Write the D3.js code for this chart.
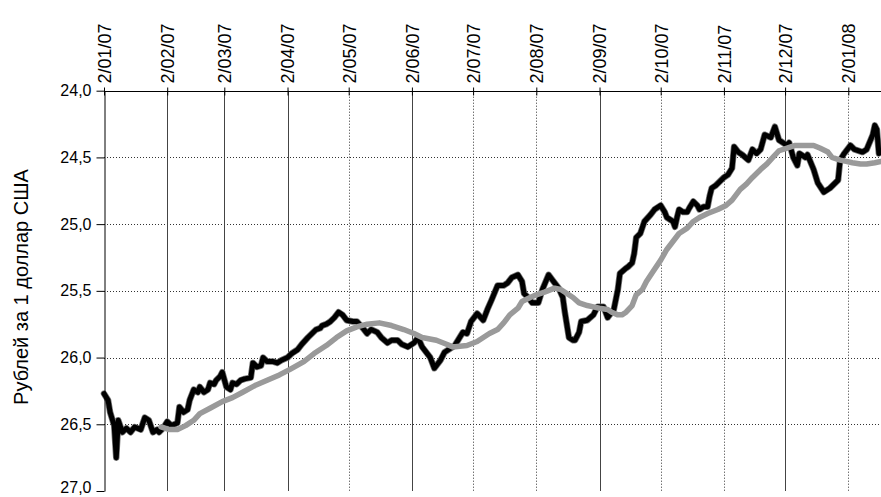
<!DOCTYPE html>
<html><head><meta charset="utf-8">
<script src="https://cdn.jsdelivr.net/npm/d3@7"></script>
<style>
body{margin:0;background:#fff}
text{font-family:"Liberation Sans",Arial,sans-serif;fill:#000}
</style>
</head><body>
<svg id="c" width="881" height="497"></svg>
<script>
// ---- data ----
const monthTicks = ["2/01/07","2/02/07","2/03/07","2/04/07","2/05/07","2/06/07","2/07/07","2/08/07","2/09/07","2/10/07","2/11/07","2/12/07","2/01/08"];
const solidGridTicks = ["2/02/07","2/03/07","2/04/07","2/06/07","2/09/07","2/12/07"];
const yTicks = [24.0,24.5,25.0,25.5,26.0,26.5,27.0];
const yTitle = "Рублей за 1 доллар США";

const rateDates = ["2007-01-02","2007-01-04","2007-01-05","2007-01-07","2007-01-08","2007-01-09","2007-01-11","2007-01-13","2007-01-15","2007-01-17","2007-01-20","2007-01-22","2007-01-24","2007-01-26","2007-01-28","2007-01-29","2007-01-31",
"2007-02-02","2007-02-04","2007-02-07","2007-02-08","2007-02-10","2007-02-12","2007-02-13","2007-02-15","2007-02-17","2007-02-18","2007-02-20","2007-02-22","2007-02-23","2007-02-25","2007-02-26","2007-02-28",
"2007-03-01","2007-03-03","2007-03-05","2007-03-06","2007-03-08","2007-03-10","2007-03-12","2007-03-15","2007-03-16","2007-03-18","2007-03-20","2007-03-21","2007-03-23","2007-03-24","2007-03-26","2007-03-28","2007-03-30",
"2007-04-02","2007-04-04","2007-04-07","2007-04-09","2007-04-12","2007-04-14","2007-04-16","2007-04-18","2007-04-19","2007-04-21","2007-04-23","2007-04-25","2007-04-27","2007-04-29",
"2007-05-01","2007-05-04","2007-05-06","2007-05-09","2007-05-11","2007-05-13","2007-05-16","2007-05-18","2007-05-21","2007-05-23","2007-05-26","2007-05-28","2007-05-31",
"2007-06-03","2007-06-05","2007-06-07","2007-06-11","2007-06-13","2007-06-16","2007-06-18","2007-06-21","2007-06-23","2007-06-27","2007-06-29",
"2007-07-01","2007-07-04","2007-07-07","2007-07-09","2007-07-11","2007-07-14","2007-07-17","2007-07-19","2007-07-21","2007-07-24","2007-07-26","2007-07-27","2007-07-29","2007-07-31",
"2007-08-03","2007-08-05","2007-08-08","2007-08-10","2007-08-13","2007-08-15","2007-08-16","2007-08-18","2007-08-20","2007-08-21","2007-08-23","2007-08-24","2007-08-27","2007-08-30",
"2007-09-01","2007-09-04","2007-09-06","2007-09-09","2007-09-11","2007-09-12","2007-09-15","2007-09-16","2007-09-18","2007-09-19","2007-09-20","2007-09-22","2007-09-24","2007-09-27","2007-09-29",
"2007-10-02","2007-10-04","2007-10-05","2007-10-08","2007-10-09","2007-10-10","2007-10-11","2007-10-13","2007-10-15","2007-10-16","2007-10-18","2007-10-20","2007-10-21","2007-10-23","2007-10-25","2007-10-26","2007-10-27","2007-10-29","2007-10-31",
"2007-11-02","2007-11-04","2007-11-06","2007-11-07","2007-11-09","2007-11-11","2007-11-14","2007-11-16","2007-11-18","2007-11-20","2007-11-22","2007-11-25","2007-11-27","2007-11-29",
"2007-12-01","2007-12-03","2007-12-04","2007-12-06","2007-12-08","2007-12-09","2007-12-12","2007-12-13","2007-12-16","2007-12-18","2007-12-21","2007-12-24","2007-12-28","2007-12-29","2007-12-31",
"2008-01-03","2008-01-05","2008-01-09","2008-01-11","2008-01-14","2008-01-15","2008-01-16","2008-01-17"];
const rateValues = [26.27,26.32,26.41,26.51,26.75,26.47,26.56,26.53,26.56,26.52,26.54,26.45,26.47,26.56,26.54,26.56,26.53,
26.48,26.51,26.49,26.37,26.41,26.39,26.32,26.24,26.26,26.22,26.26,26.24,26.19,26.20,26.17,26.14,
26.11,26.22,26.24,26.19,26.20,26.17,26.16,26.15,26.04,26.07,26.06,26.00,26.03,26.03,26.03,26.04,26.02,
26.00,25.97,25.94,25.90,25.85,25.82,25.79,25.78,25.76,25.75,25.73,25.70,25.66,25.68,
25.72,25.73,25.73,25.78,25.82,25.79,25.81,25.85,25.89,25.87,25.87,25.90,25.92,
25.89,25.85,25.92,26.00,26.08,26.02,25.96,25.93,25.91,25.81,25.82,
25.73,25.67,25.72,25.64,25.57,25.46,25.46,25.44,25.40,25.38,25.43,25.52,25.55,25.59,
25.59,25.49,25.38,25.42,25.48,25.55,25.66,25.85,25.87,25.87,25.81,25.73,25.72,25.68,
25.62,25.62,25.70,25.64,25.49,25.37,25.33,25.32,25.29,25.22,25.10,25.07,24.98,24.93,24.89,
24.86,24.91,24.95,24.98,25.02,24.95,24.89,24.91,24.91,24.88,24.83,24.86,24.89,24.87,24.87,24.79,24.73,24.71,24.68,
24.65,24.63,24.58,24.42,24.46,24.48,24.52,24.44,24.47,24.44,24.33,24.35,24.27,24.37,
24.39,24.41,24.39,24.50,24.56,24.47,24.50,24.48,24.59,24.69,24.76,24.73,24.67,24.52,24.47,
24.41,24.44,24.46,24.44,24.33,24.26,24.29,24.47];

const avgDates = ["2007-01-30","2007-02-03","2007-02-07","2007-02-11","2007-02-15","2007-02-18","2007-02-23","2007-03-01","2007-03-06","2007-03-11","2007-03-17","2007-03-23","2007-03-29",
"2007-04-03","2007-04-10","2007-04-15","2007-04-21","2007-04-26","2007-05-01","2007-05-06","2007-05-11","2007-05-17","2007-05-23","2007-05-29",
"2007-06-03","2007-06-07","2007-06-14","2007-06-19","2007-06-22","2007-06-29","2007-07-04","2007-07-07","2007-07-10","2007-07-14","2007-07-17","2007-07-20","2007-07-24","2007-07-26","2007-07-30",
"2007-08-02","2007-08-06","2007-08-11","2007-08-14","2007-08-17","2007-08-20","2007-08-23","2007-08-27","2007-08-30",
"2007-09-02","2007-09-06","2007-09-08","2007-09-11","2007-09-13","2007-09-15","2007-09-18","2007-09-20","2007-09-23","2007-09-25","2007-09-28",
"2007-10-02","2007-10-05","2007-10-08","2007-10-11","2007-10-15","2007-10-18","2007-10-21","2007-10-25","2007-10-30",
"2007-11-03","2007-11-06","2007-11-10","2007-11-13","2007-11-16","2007-11-20","2007-11-23","2007-11-26","2007-11-29",
"2007-12-03","2007-12-07","2007-12-13","2007-12-16","2007-12-19","2007-12-23","2007-12-25","2007-12-29",
"2008-01-01","2008-01-04","2008-01-08","2008-01-11","2008-01-15","2008-01-18"];
const avgValues = [26.52,26.54,26.54,26.51,26.47,26.42,26.38,26.33,26.30,26.26,26.21,26.17,26.13,
26.09,26.03,25.97,25.91,25.85,25.80,25.77,25.75,25.74,25.76,25.79,
25.82,25.85,25.87,25.90,25.92,25.91,25.88,25.85,25.82,25.79,25.74,25.68,25.63,25.58,25.55,
25.53,25.51,25.48,25.49,25.52,25.55,25.59,25.61,25.62,
25.63,25.64,25.66,25.68,25.68,25.66,25.61,25.53,25.49,25.43,25.36,
25.27,25.19,25.13,25.07,25.03,24.98,24.95,24.92,24.89,
24.86,24.82,24.74,24.70,24.65,24.59,24.55,24.50,24.45,
24.43,24.41,24.41,24.41,24.43,24.46,24.50,24.52,
24.53,24.54,24.55,24.55,24.54,24.53];

// ---- chart ----
const plot = {left: 104, top: 90.7, right: 881, bottom: 491};
const parseTick = d3.timeParse("%d/%m/%y");
const parseDate = d3.timeParse("%Y-%m-%d");

const x = d3.scaleTime()
  .domain([parseTick("2/01/07"), parseTick("2/01/08")])
  .range([plot.left, 848.3]);
const y = d3.scaleLinear().domain([24, 27]).range([plot.top, plot.bottom]);

const svg = d3.select("#c");

// horizontal grid (dotted)
svg.append("g").selectAll("line")
  .data(yTicks.filter(v => v > 24 && v < 27))
  .join("line")
  .attr("x1", plot.left).attr("x2", plot.right)
  .attr("y1", d => Math.round(y(d)) + 0.5).attr("y2", d => Math.round(y(d)) + 0.5)
  .attr("stroke", "#333").attr("stroke-width", 1).attr("stroke-dasharray", "1,2");

// vertical grid
const tickDates = monthTicks.map(parseTick);
svg.append("g").selectAll("line")
  .data(monthTicks.slice(1))
  .join("line")
  .attr("x1", d => Math.round(x(parseTick(d))) + 0.5)
  .attr("x2", d => Math.round(x(parseTick(d))) + 0.5)
  .attr("y1", plot.top).attr("y2", plot.bottom)
  .attr("stroke", d => solidGridTicks.includes(d) ? "#444" : "#333")
  .attr("stroke-width", 1)
  .attr("stroke-dasharray", d => solidGridTicks.includes(d) ? null : "1,2");

// lines
const rate = rateDates.map((d, i) => ({date: parseDate(d), v: rateValues[i]}));
const avg = avgDates.map((d, i) => ({date: parseDate(d), v: avgValues[i]}));
const line = d3.line().x(d => x(d.date)).y(d => y(d.v));

svg.append("path").datum(rate).attr("d", line)
  .attr("fill", "none").attr("stroke", "#777").attr("stroke-width", 6.5)
  .attr("stroke-linejoin", "round").attr("stroke-linecap", "round");
svg.append("path").datum(rate).attr("d", line)
  .attr("fill", "none").attr("stroke", "#000").attr("stroke-width", 5)
  .attr("stroke-linejoin", "round").attr("stroke-linecap", "round");
svg.append("path").datum(avg).attr("d", line)
  .attr("fill", "none").attr("stroke", "#9a9a9a").attr("stroke-width", 5.5)
  .attr("stroke-linejoin", "round").attr("stroke-linecap", "round");

// top axis
const xAxis = d3.axisTop(x).tickValues(tickDates)
  .tickFormat((d, i) => monthTicks[i]).tickSize(4).tickSizeOuter(0);
const gx = svg.append("g").attr("transform", `translate(0,${Math.round(plot.top) + 0.5})`).call(xAxis);
gx.select(".domain").remove();
gx.append("line").attr("x1", plot.left).attr("x2", plot.right).attr("stroke", "#000");
gx.selectAll(".tick line").attr("y1", 4).attr("y2", -4).attr("stroke", "#000");
gx.selectAll(".tick text")
  .attr("transform", "translate(0,-8) rotate(-90)")
  .attr("x", 0).attr("y", 0).attr("dy", "0.35em")
  .style("text-anchor", "start")
  .style("font-size", "18px")
  .style("font-family", '"Liberation Sans",Arial,sans-serif');

// left axis
const yAxis = d3.axisLeft(y).tickValues(yTicks)
  .tickFormat(d => d3.format(".1f")(d).replace(".", ",")).tickSize(8).tickPadding(5).tickSizeOuter(0);
const gy = svg.append("g").attr("transform", `translate(${plot.left + 0.5},0)`).call(yAxis);
gy.select(".domain").attr("stroke", "#000");
gy.selectAll(".tick text").style("font-size", "16px")
  .style("font-family", '"Liberation Sans",Arial,sans-serif')
  .attr("dy", d => d === 27 ? "0.1em" : "0.32em");

// y title
svg.append("text")
  .attr("transform", `translate(21,287) rotate(-90)`)
  .attr("text-anchor", "middle").attr("dy", "0.35em")
  .style("font-size", "20px")
  .text(yTitle);
</script>
</body></html>
